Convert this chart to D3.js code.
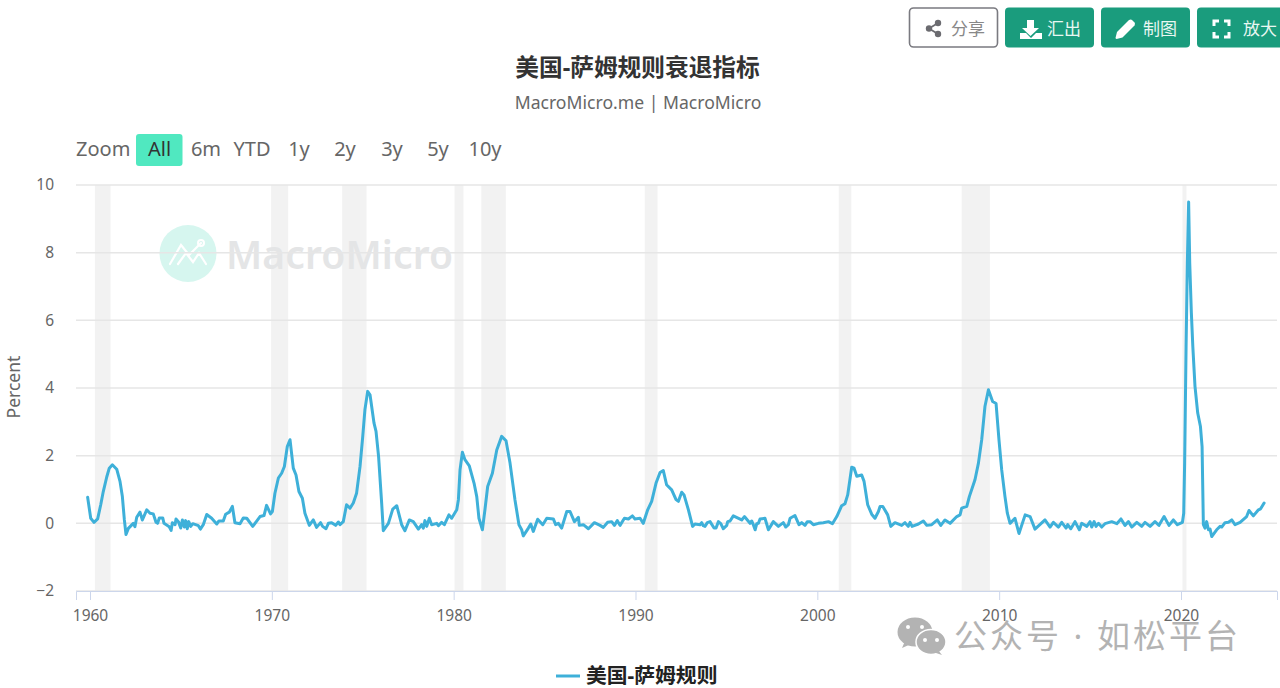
<!DOCTYPE html>
<html><head><meta charset="utf-8">
<script src="https://cdn.jsdelivr.net/npm/d3@7/dist/d3.min.js"></script>
<style>html,body{margin:0;padding:0;background:#fff;overflow:hidden}svg{display:block}text{font-family:"Noto Sans","Noto Sans CJK SC",sans-serif}</style>
</head><body><svg id="c" width="1280" height="688"></svg>
<script>
const titleText="美国-萨姆规则衰退指标";
const subtitleText="MacroMicro.me | MacroMicro";
const legendText="美国-萨姆规则";
const yTicks=[-2,0,2,4,6,8,10];
const xTicks=[1960,1970,1980,1990,2000,2010,2020];
const rangeLabels=["All","6m","YTD","1y","2y","3y","5y","10y"];
const recessions=[[1960.27,1961.13],[1969.96,1970.9],[1973.87,1975.21],[1980.05,1980.54],[1981.52,1982.87],[1990.51,1991.21],[2001.18,2001.87],[2007.94,2009.49],[2020.08,2020.3]];
const years=[1959.87,1960.04,1960.22,1960.42,1960.59,1960.73,1960.92,1961.06,1961.23,1961.47,1961.65,1961.78,1961.89,1961.98,1962.11,1962.38,1962.47,1962.57,1962.75,1962.88,1963.12,1963.3,1963.48,1963.63,1963.72,1963.81,1964.0,1964.07,1964.36,1964.46,1964.53,1964.68,1964.73,1964.86,1964.99,1965.08,1965.19,1965.26,1965.35,1965.43,1965.54,1965.65,1965.96,1966.07,1966.23,
1966.42,1966.69,1966.97,1967.09,1967.33,1967.46,1967.66,1967.83,1967.97,1968.25,1968.43,1968.62,1968.95,1969.35,1969.57,1969.71,1969.93,1970.03,1970.17,1970.36,1970.54,1970.69,1970.85,1971.0,1971.18,1971.33,1971.49,1971.68,1971.82,1972.06,1972.28,1972.46,1972.68,1972.79,1972.98,1973.11,1973.29,1973.51,1973.66,1973.75,1973.93,1974.11,1974.3,1974.48,1974.66,1974.85,1975.0,1975.12,1975.27,1975.4,1975.62,1975.73,1975.87,1976.04,1976.13,
1976.41,1976.65,1976.87,1977.14,1977.32,1977.56,1977.78,1978.06,1978.24,1978.33,1978.42,1978.52,1978.66,1978.79,1979.07,1979.16,1979.34,1979.49,1979.74,1979.89,1980.17,1980.26,1980.35,1980.48,1980.62,1980.86,1981.12,1981.27,1981.39,1981.58,1981.72,1981.87,1982.13,1982.37,1982.64,1982.88,1983.1,1983.37,1983.59,1983.74,1983.83,1984.11,1984.24,1984.38,1984.62,1984.9,1985.12,1985.48,1985.61,1985.76,1985.94,1986.22,1986.4,1986.64,1986.86,1986.91,1987.13,1987.41,1987.74,1988.05,1988.23,1988.47,1988.69,1988.84,1989.0,1989.15,1989.39,1989.61,1989.83,1989.97,1990.25,1990.43,1990.67,1990.89,1991.13,1991.35,1991.53,1991.71,1991.99,1992.23,1992.36,1992.54,1992.67,1992.91,1993.14,1993.27,
1993.55,1993.64,1993.73,1993.82,1993.95,1994.1,1994.32,1994.43,1994.56,1994.69,1994.83,1995.02,1995.07,1995.2,1995.38,1995.84,1995.99,1996.3,1996.39,1996.48,1996.58,1996.67,1996.76,1996.85,1997.12,1997.31,1997.58,1997.86,1998.13,1998.26,1998.41,1998.5,1998.77,1998.99,1999.14,1999.32,1999.45,1999.6,1999.78,2000.06,2000.33,2000.61,2000.83,2001.07,2001.34,2001.52,2001.67,2001.89,2002.02,2002.17,2002.44,2002.57,2002.77,2002.99,2003.17,2003.36,2003.45,2003.6,2003.87,2004.04,2004.27,2004.64,2004.82,2005.0,2005.1,2005.21,2005.56,2005.83,2006.02,2006.29,2006.6,2006.79,2007.02,2007.3,2007.67,2007.85,2007.94,2008.22,2008.36,2008.67,2008.86,2009.04,2009.22,2009.41,2009.64,2009.83,2009.99,2010.14,2010.32,2010.45,2010.6,2010.87,2011.09,
2011.43,2011.7,2011.97,2012.52,2012.8,2012.98,2013.26,2013.44,2013.68,2013.77,2013.94,2014.17,2014.41,2014.54,2014.82,2015.0,2015.09,2015.22,2015.33,2015.46,2015.64,2015.82,2016.19,2016.47,2016.7,2016.92,2017.11,2017.29,2017.57,2017.84,2018.02,2018.3,2018.57,2018.79,2019.07,2019.34,2019.58,2019.8,2020.08,2020.15,2020.2,2020.28,2020.35,2020.42,2020.48,2020.57,2020.65,2020.77,2020.92,2021.07,2021.16,2021.23,2021.32,2021.41,2021.51,2021.6,2021.69,2021.96,2022.15,2022.24,2022.42,2022.61,2022.79,2022.97,2023.25,2023.61,2023.74,2023.98,2024.26,2024.38,2024.57];
const values=[0.77,0.15,0.03,0.13,0.55,0.94,1.37,1.63,1.73,1.6,1.24,0.79,0.1,-0.33,-0.15,0,-0.1,0.18,0.33,0.1,0.4,0.3,0.28,0.03,0,0.16,0.16,0,-0.1,-0.21,0.02,-0.04,0.13,0.05,-0.14,0.1,-0.11,0.08,-0.16,0.05,-0.09,-0.01,-0.07,-0.17,-0.04,
0.26,0.15,-0.02,0.07,0.07,0.27,0.33,0.5,0.02,-0.01,0.16,0.15,-0.09,0.2,0.23,0.53,0.28,0.35,0.89,1.34,1.48,1.68,2.27,2.47,1.63,1.43,0.94,0.74,0.3,-0.06,0.1,-0.12,0.02,-0.09,-0.16,0,0.02,-0.06,0.04,-0.04,0.05,0.55,0.45,0.6,0.89,1.68,2.57,3.36,3.9,3.8,2.96,2.72,1.98,0.6,-0.22,
0,0.42,0.52,-0.04,-0.22,0.1,0.05,-0.17,-0.04,-0.14,0.08,-0.09,0.15,-0.04,0,-0.07,0.03,-0.04,0.25,0.15,0.4,0.7,1.58,2.1,1.88,1.7,1.19,0.79,0.15,-0.19,0.4,1.09,1.48,2.17,2.57,2.44,1.78,0.7,-0.04,-0.19,-0.37,-0.14,-0.02,-0.24,0.12,-0.04,0.15,0.13,-0.04,0,-0.14,0.35,0.35,0.05,0.18,-0.06,-0.04,-0.16,0.02,-0.06,-0.12,0.03,0.05,-0.06,0.08,-0.06,0.15,0.13,0.22,0.13,0.15,0,0.4,0.65,1.19,1.5,1.56,1.14,0.99,0.7,0.65,0.92,0.84,0.4,-0.09,-0.02,
-0.04,0.02,-0.07,-0.09,0.02,0.05,-0.14,-0.14,0.05,-0.01,-0.16,-0.06,0.05,0.07,0.22,0.1,0.2,0,0.07,-0.04,-0.19,-0.01,0,0.13,0.15,-0.19,0.05,-0.09,0.02,-0.11,-0.04,0.15,0.23,-0.04,0.02,-0.06,0.05,0.05,-0.04,0,0.02,0.05,-0.01,0.2,0.52,0.58,0.84,1.66,1.63,1.39,1.43,1.24,0.55,0.27,0.15,0.35,0.5,0.5,0.25,-0.09,0.02,-0.06,0.02,-0.09,0.03,-0.09,-0.02,0.07,-0.06,-0.04,0.1,-0.06,0.1,0,0.2,0.25,0.45,0.5,0.79,1.29,1.78,2.47,3.46,3.95,3.6,3.54,2.47,1.58,0.79,0.3,0,0.15,-0.3,
0.25,0.2,-0.17,0.1,-0.11,0.03,-0.11,0.03,-0.14,-0.04,-0.16,0.05,-0.19,0,-0.09,0.05,-0.11,0.05,-0.09,0,-0.11,-0.01,0.05,-0.01,0.13,-0.06,0.05,-0.11,0.03,-0.09,0.03,-0.09,0.05,-0.06,0.2,-0.06,0.1,-0.04,0.03,0.3,1.78,5.23,7.7,9.5,7.7,6.22,5.23,4.05,3.26,2.86,2.27,-0.04,-0.14,0.05,-0.19,-0.17,-0.39,-0.19,-0.09,-0.11,0.02,0.03,0.1,-0.04,0.03,0.2,0.38,0.22,0.4,0.43,0.6];

const svg=d3.select("#c");
const x=d3.scaleLinear().domain([1959.23,2025.28]).range([76,1277]);
const y=d3.scaleLinear().domain([-2,10]).range([591,185]);

// recession bands
svg.append("g").selectAll("rect").data(recessions).join("rect")
 .attr("x",d=>x(d[0])).attr("width",d=>x(d[1])-x(d[0]))
 .attr("y",y(10)).attr("height",y(-2)-y(10)).attr("fill","#f2f2f2");

// watermark
const wm=svg.append("g");
wm.append("circle").attr("cx",188).attr("cy",253.5).attr("r",28.5).attr("fill","#d6f6ef");
wm.append("path").attr("d","M170 264 L181 245 L189 255 L201 243 M178 264 L186 253 L193 262 L199 253 L206 264")
 .attr("fill","none").attr("stroke","#fff").attr("stroke-width",2.2).attr("stroke-linecap","round");
wm.append("circle").attr("cx",201).attr("cy",243).attr("r",3).attr("fill","none").attr("stroke","#fff").attr("stroke-width",2);
wm.append("text").attr("x",226).attr("y",269).attr("font-size",39).attr("font-weight",600)
 .attr("textLength",227).attr("fill","#e4e5e6").text("MacroMicro");

// grid
svg.append("g").selectAll("line").data(yTicks).join("line")
 .attr("x1",76).attr("x2",1277).attr("y1",d=>y(d)).attr("y2",d=>y(d))
 .attr("stroke","#e6e6e6").attr("stroke-width",1.5);

// axes
const gx=svg.append("g").attr("transform",`translate(0,${y(-2)})`)
 .call(d3.axisBottom(x).tickValues(xTicks).tickFormat(d3.format("d")).tickSize(9).tickPadding(10));
gx.select(".domain").attr("stroke","#ccd6eb").attr("stroke-width",1);
gx.selectAll(".tick line").attr("stroke","#ccd6eb");
gx.selectAll("text").attr("font-size",15.5).attr("fill","#666").attr("font-family",'"Noto Sans",sans-serif');
const gy=svg.append("g").attr("transform","translate(54,0)")
 .call(d3.axisLeft(y).tickValues(yTicks).tickSize(0).tickPadding(0));
gy.select(".domain").remove();
gy.selectAll("text").attr("font-size",15.5).attr("fill","#666").attr("font-family",'"Noto Sans",sans-serif');
svg.append("text").attr("transform","translate(20,387) rotate(-90)").attr("text-anchor","middle")
 .attr("font-size",17.5).attr("fill","#666").text("Percent");

// series
const pts=years.map((t,i)=>[t,values[i]]);
svg.append("path").datum(pts).attr("fill","none").attr("stroke","#3eb0d9").attr("stroke-width",3)
 .attr("stroke-linejoin","round").attr("stroke-linecap","round")
 .attr("d",d3.line().x(d=>x(d[0])).y(d=>y(d[1])));

// title
svg.append("text").attr("x",637.5).attr("y",76).attr("text-anchor","middle").attr("font-size",23.7)
 .attr("font-weight",700).attr("fill","#333").attr("font-family",'"Noto Sans CJK SC",sans-serif').text(titleText);
svg.append("text").attr("x",638).attr("y",109).attr("text-anchor","middle").attr("font-size",17.6)
 .attr("fill","#666").text(subtitleText);

// range selector
svg.append("text").attr("x",76).attr("y",156).attr("font-size",20).attr("fill","#666").text("Zoom");
svg.append("rect").attr("x",136).attr("y",134).attr("width",46.5).attr("height",32).attr("rx",3).attr("fill","#50e8c0");
const rx=[159.5,206,252,299,345,392,438,485];
svg.append("g").selectAll("text").data(rangeLabels).join("text")
 .attr("x",(d,i)=>rx[i]).attr("y",156).attr("text-anchor","middle").attr("font-size",20)
 .attr("fill",(d,i)=>i===0?"#333":"#666").text(d=>d);

// legend
svg.append("line").attr("x1",556).attr("x2",580).attr("y1",676).attr("y2",676).attr("stroke","#3eb0d9").attr("stroke-width",3);
svg.append("text").attr("x",586).attr("y",682.5).attr("font-size",20.8).attr("font-weight",700).attr("fill","#222")
 .attr("font-family",'"Noto Sans CJK SC",sans-serif').text(legendText);

// toolbar buttons
const btns=[{x:909.5,w:88,t:"分享",tx:951,o:true},{x:1005,w:89,t:"汇出",tx:1047},{x:1101,w:89,t:"制图",tx:1143},{x:1197,w:95,t:"放大",tx:1243}];
const gb=svg.append("g");
btns.forEach(b=>{
 gb.append("rect").attr("x",b.x).attr("y",b.o?8:7.5).attr("width",b.w).attr("height",b.o?39:40).attr("rx",4)
  .attr("fill",b.o?"#fff":"#1a9c7d").attr("stroke",b.o?"#7a7a80":"none").attr("stroke-width",b.o?1.6:0);
 gb.append("text").attr("x",b.tx).attr("y",34.5).attr("font-size",17).attr("fill",b.o?"#888":"#e8f7f2")
  .attr("font-family",'"Noto Sans CJK SC",sans-serif').text(b.t);
});
// share icon
const sh=gb.append("g").attr("fill","#6b6b70");
[[938,23],[929,28.5],[938,34]].forEach(p=>sh.append("circle").attr("cx",p[0]).attr("cy",p[1]).attr("r",3.2));
sh.append("path").attr("d","M938 23 L929 28.5 L938 34").attr("fill","none").attr("stroke","#6b6b70").attr("stroke-width",1.8);
// download icon
gb.append("path").attr("fill","#fff").attr("d","M1027 20h7v8h5l-8.500 8-8.500-8h5z M1020 33h6l5 5 5-5h6v6h-22z");
// pencil icon
gb.append("path").attr("fill","#fff").attr("d","M1117 32l12-12q2-1 3 0l2.500 2.500q1 1 0 3l-12 12-6 1.500q-1-.5-1-1z");
// expand icon
gb.append("path").attr("fill","none").attr("stroke","#fff").attr("stroke-width",3)
 .attr("d","M1214 26v-5h5 M1224 21h5v5 M1229 32v5h-5 M1219 37h-5v-5");

// corner watermark
const wx=svg.append("g").attr("fill","#b3b3b3");
wx.append("ellipse").attr("cx",915).attr("cy",632).attr("rx",17.500).attr("ry",14.500);
wx.append("path").attr("d","M905 641l-3 7 9-4z");
wx.append("ellipse").attr("cx",931).attr("cy",642).attr("rx",15).attr("ry",12.500).attr("stroke","#fff").attr("stroke-width",1.5);
wx.append("path").attr("d","M938 650l4 5-9-3z");
[[908,627],[922,627],[925,640],[937,640]].forEach(p=>wx.append("circle").attr("cx",p[0]).attr("cy",p[1]).attr("r",2).attr("fill","#fff"));
svg.append("text").attr("x",954).attr("y",648).attr("font-size",33).attr("fill","#b3b3b3")
 .attr("font-family",'"Noto Sans CJK SC",sans-serif').attr("textLength",284).text("公众号 · 如松平台");
</script></body></html>
